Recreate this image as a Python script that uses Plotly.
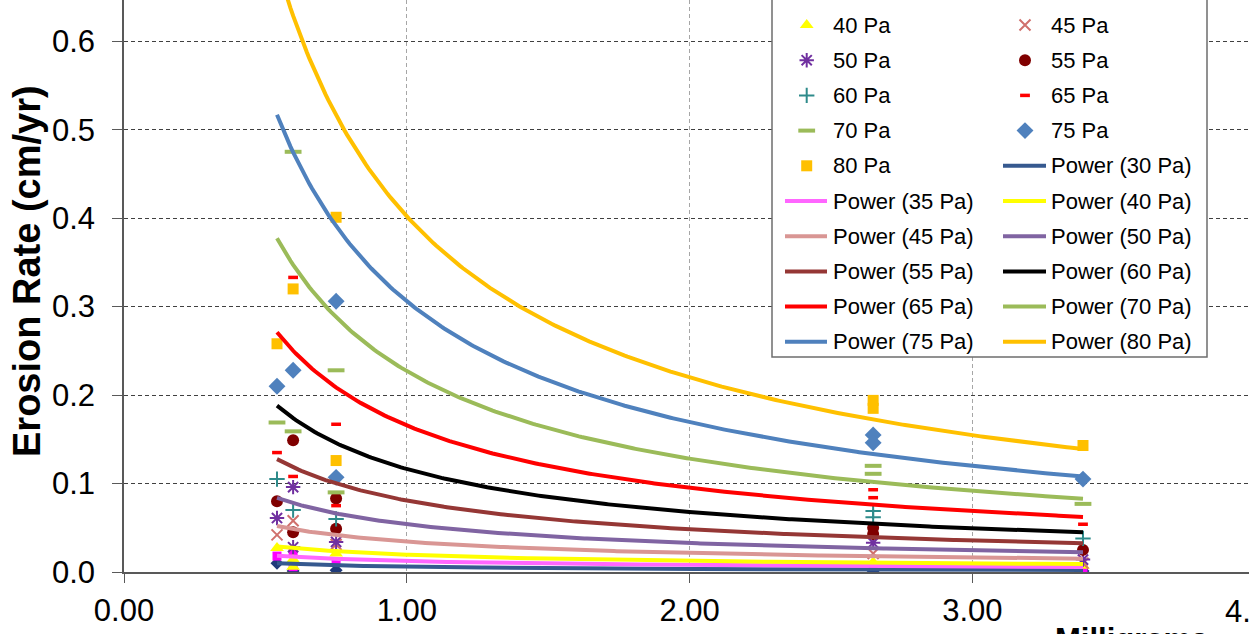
import numpy as np
import plotly.graph_objects as go

# ---------------- data ----------------
stress_labels = ["30 Pa", "35 Pa", "40 Pa", "45 Pa", "50 Pa", "55 Pa",
                 "60 Pa", "65 Pa", "70 Pa", "75 Pa", "80 Pa"]

x30 = [0.541, 0.598, 0.750, 2.649, 3.391]
y30 = [0.010, 0.001, 0.002, 0.001, 0.001]
x35 = [0.541, 0.598, 0.598, 0.750, 2.649, 3.391]
y35 = [0.018, 0.023, 0.006, 0.011, 0.007, 0.005]
x40 = [0.541, 0.598, 0.598, 0.750, 2.649, 3.391]
y40 = [0.027, 0.014, 0.006, 0.021, 0.011, 0.007]
x45 = [0.541, 0.598, 0.750, 2.649, 3.391]
y45 = [0.042, 0.058, 0.031, 0.021, 0.010]
x50 = [0.541, 0.598, 0.598, 0.750, 2.649, 3.391]
y50 = [0.061, 0.096, 0.028, 0.034, 0.033, 0.014]
x55 = [0.541, 0.598, 0.598, 0.750, 0.750, 2.649, 2.649, 3.391]
y55 = [0.080, 0.149, 0.045, 0.083, 0.049, 0.050, 0.043, 0.025]
x60 = [0.541, 0.598, 0.750, 2.649, 2.649, 3.391]
y60 = [0.105, 0.070, 0.060, 0.069, 0.062, 0.038]
x65 = [0.541, 0.598, 0.598, 0.750, 0.750, 2.649, 2.649, 3.391]
y65 = [0.135, 0.333, 0.108, 0.167, 0.075, 0.093, 0.084, 0.054]
x70 = [0.541, 0.598, 0.598, 0.750, 0.750, 2.649, 2.649, 3.391]
y70 = [0.169, 0.475, 0.159, 0.228, 0.090, 0.120, 0.111, 0.077]
x75 = [0.541, 0.598, 0.750, 0.750, 2.649, 2.649, 3.391]
y75 = [0.210, 0.228, 0.306, 0.107, 0.155, 0.146, 0.105]
x80 = [0.541, 0.598, 0.750, 0.750, 2.649, 2.649, 3.391]
y80 = [0.258, 0.320, 0.401, 0.126, 0.194, 0.185, 0.143]

# power trendline coefficients  y = a * x^b  (one per shear stress)
trend_a = [0.0060, 0.0124, 0.0195, 0.0343, 0.0539, 0.0808,
           0.1164, 0.1657, 0.2271, 0.3060, 0.4020]
trend_b = [-0.792, -0.644, -0.635, -0.674, -0.718, -0.744,
           -0.781, -0.801, -0.826, -0.853, -0.870]

x_ticks = [0, 1, 2, 3]
y_ticks = [0.0, 0.1, 0.2, 0.3, 0.4, 0.5, 0.6]

series_x = [x30, x35, x40, x45, x50, x55, x60, x65, x70, x75, x80]
series_y = [y30, y35, y40, y45, y50, y55, y60, y65, y70, y75, y80]

# ---------------- styles ----------------
FONT = "Arial, Liberation Sans, sans-serif"
marker_styles = [
    dict(symbol="diamond", size=10, color="#1F3A7A"),
    dict(symbol="square", size=9, color="#FF00FF"),
    dict(symbol="triangle-up", size=12, color="#FFFF00"),
    dict(symbol="x-thin", size=11, color="#D0706C", line=dict(color="#D0706C", width=2)),
    dict(symbol="asterisk", size=12, color="#7030A0", line=dict(color="#7030A0", width=2)),
    dict(symbol="circle", size=12, color="#800000"),
    dict(symbol="cross-thin", size=11, color="#2E8B8B", line=dict(color="#2E8B8B", width=2)),
    dict(symbol="line-ew", size=7, color="#FF0000", line=dict(color="#FF0000", width=3.5)),
    dict(symbol="line-ew", size=12, color="#9BBB59", line=dict(color="#9BBB59", width=4)),
    dict(symbol="diamond", size=13, color="#4F81BD"),
    dict(symbol="square", size=11, color="#FFC000"),
]
line_colors = ["#36598F", "#FF66FF", "#FFFF00", "#D99694", "#8064A2", "#953735",
               "#000000", "#FF0000", "#9BBB59", "#4F81BD", "#FFC000"]

fig = go.Figure()

# scatter markers
for i, lab in enumerate(stress_labels):
    fig.add_trace(go.Scatter(x=series_x[i], y=series_y[i], mode="markers",
                             marker=marker_styles[i], name=lab, showlegend=False))

# power trendlines
for i, lab in enumerate(stress_labels):
    xs = np.linspace(min(series_x[i]), max(series_x[i]), 300)
    ys = trend_a[i] * xs ** trend_b[i]
    fig.add_trace(go.Scatter(x=xs, y=ys, mode="lines",
                             line=dict(color=line_colors[i], width=4),
                             name="Power (%s)" % lab, showlegend=False))

# ---------------- hand-built legend (pixel coordinates on overlay axes) ----------------
L, R, B = 772, 1207, 357
fig.add_trace(go.Scatter(x=[L, R, R, L, L], y=[-40, -40, B, B, -40], mode="lines",
                         fill="toself", fillcolor="white",
                         line=dict(color="#6E6E6E", width=1.5),
                         xaxis="x2", yaxis="y2", showlegend=False, hoverinfo="skip"))
row0, row_h = -10.2, 35.2
sym_x = [806.7, 1025.0]
line_x = [(785, 827), (1003, 1046)]
text_x = [831, 1049]
entries = [("m", i) for i in range(11)] + [("l", i) for i in range(11)]
annotations = []
for k, (kind, i) in enumerate(entries):
    row, col = divmod(k, 2)
    ry = row0 + row * row_h
    if kind == "m":
        ms = dict(marker_styles[i])
        fig.add_trace(go.Scatter(x=[sym_x[col]], y=[ry], mode="markers", marker=ms,
                                 xaxis="x2", yaxis="y2", showlegend=False, hoverinfo="skip"))
        txt = stress_labels[i]
    else:
        fig.add_trace(go.Scatter(x=list(line_x[col]), y=[ry, ry], mode="lines",
                                 line=dict(color=line_colors[i], width=4),
                                 xaxis="x2", yaxis="y2", showlegend=False, hoverinfo="skip"))
        txt = "Power (%s)" % stress_labels[i]
    if ry > 0:
        annotations.append(dict(x=text_x[col], y=ry, xref="x2", yref="y2", text=txt,
                                showarrow=False, xanchor="left", yanchor="middle",
                                font=dict(family=FONT, size=22, color="black")))

# axis titles (partly cut off by the picture edge) and the cut "4.00" tick label
annotations.append(dict(x=(27 - 124) / 1125, y=(572 - 271) / 572, xref="paper", yref="paper",
                        text="Erosion Rate (cm/yr)", textangle=-90, showarrow=False,
                        xanchor="center", yanchor="middle",
                        font=dict(family=FONT, size=38, color="black", weight="bold")))
annotations.append(dict(x=(1053 - 124) / 1125, y=(572 - 620) / 572, xref="paper", yref="paper",
                        text="Milligrams", showarrow=False,
                        xanchor="left", yanchor="top",
                        font=dict(family=FONT, size=31, color="black", weight="bold")))
annotations.append(dict(x=(1255 - 124) / 1125, y=(572 - 611) / 572, xref="paper", yref="paper",
                        text="4.00", showarrow=False, xanchor="center", yanchor="middle",
                        font=dict(family=FONT, size=31, color="black")))

fig.update_layout(
    width=1249, height=634,
    margin=dict(l=124, r=0, t=0, b=62, autoexpand=False),
    plot_bgcolor="white", paper_bgcolor="white",
    showlegend=False,
    annotations=annotations,
    xaxis=dict(range=[0, 3.978], tickvals=x_ticks, tickformat=".2f", automargin=False,
               showgrid=True, gridcolor="#A6A6A6", gridwidth=1, griddash="4px,3px",
               zeroline=False, showline=True, linecolor="#595959", linewidth=1.5,
               ticks="outside", ticklen=9, tickcolor="#595959", ticklabelstandoff=1,
               tickfont=dict(family=FONT, size=31, color="black")),
    yaxis=dict(range=[0, 0.6466], tickvals=y_ticks, tickformat=".1f", automargin=False,
               showgrid=True, gridcolor="#404040", gridwidth=1, griddash="4px,3px",
               zeroline=False, showline=True, linecolor="#595959", linewidth=1.5,
               ticks="outside", ticklen=10, tickcolor="#595959", ticklabelstandoff=11,
               tickfont=dict(family=FONT, size=31, color="black")),
    xaxis2=dict(range=[124, 1249], overlaying="x", visible=False),
    yaxis2=dict(range=[572, 0], overlaying="y", visible=False),
)

fig.write_html("out.html")
